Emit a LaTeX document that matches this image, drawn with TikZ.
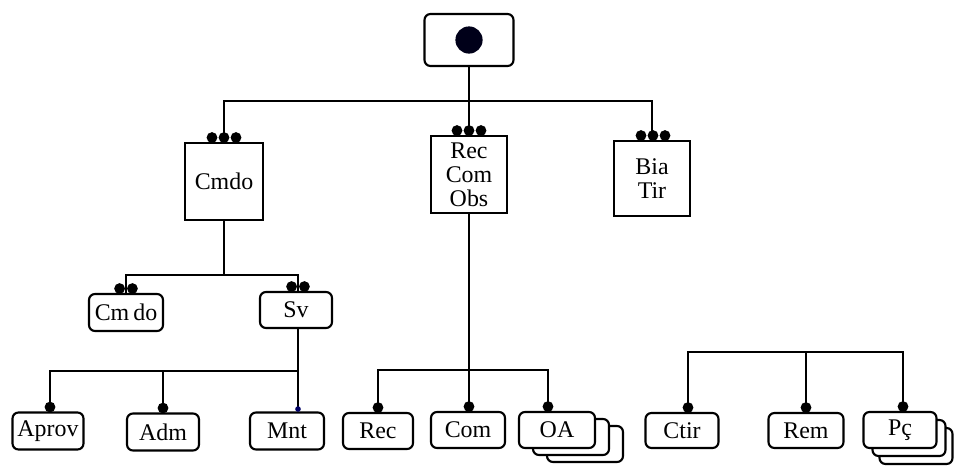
\documentclass[tikz,border=0pt]{standalone}
\usepackage{fontspec}
\setmainfont{Liberation Serif}
\begin{document}
\begin{tikzpicture}[x=0.025cm, y=-0.025cm, line width=1.5pt,
		font=\fontsize{17}{17}\selectfont,
		sqbox/.style={draw, rectangle, fill=white, align=center, inner sep=0pt},
		rbox/.style={draw, rectangle, rounded corners=0.15cm, fill=white, inner sep=0pt},
		dot/.style={circle, fill=black, inner sep=0pt, minimum size=0.27cm}]
	
	\useasboundingbox (0,0) rectangle (960,468);
	
	% topo
	\node[rbox, minimum width=2.225cm, minimum height=1.3cm] (top) at (469,40) {};
	\node[circle, fill=black!90!blue, inner sep=0pt, minimum size=0.68cm] (cir) at (top.center) {};
	
	% primeiro escalao
	\node[sqbox, minimum width=1.95cm, minimum height=1.925cm] (cmdo) at (224,181.5) {Cmdo};
	\node[sqbox, minimum width=1.9cm, minimum height=1.925cm] (rco) at (469,174.5) {Rec\\Com\\Obs};
	\node[sqbox, minimum width=1.9cm, minimum height=1.875cm] (bia) at (652,178.5) {Bia\\Tir};
	
	\coordinate (bus1) at (469,101);
	\draw (top.south) -- (rco.north);
	\draw (cmdo.north) |- (bus1) -| (bia.north);
	
	% Cmdo
	\node[rbox, minimum width=1.85cm, minimum height=0.925cm] (cmdo2) at (126,312.5) {Cm\,do};
	\node[rbox, minimum width=1.8cm, minimum height=0.9cm] (sv) at (296,310) {Sv};
	
	\coordinate (bus2) at (224,275);
	\draw (cmdo.south) -- (bus2);
	\draw (cmdo2.north) |- (bus2) -| ([xshift=0.05cm]sv.north);
	
	% Sv
	\node[rbox, minimum width=1.775cm, minimum height=0.925cm] (aprov) at (48,431) {Aprov};
	\node[rbox, minimum width=1.8cm, minimum height=0.925cm] (adm) at (163,432) {Adm};
	\node[rbox, minimum width=1.85cm, minimum height=0.925cm] (mnt) at (287,431) {Mnt};
	
	\coordinate (bus3) at (298,371);
	\draw (sv.south -| bus3) -- (bus3 |- mnt.north);
	\draw ([xshift=0.05cm]aprov.north) |- (bus3);
	\draw (adm.north) |- (bus3);
	
	% Rec Com Obs
	\node[rbox, minimum width=1.75cm, minimum height=0.9cm] (rec) at (378,431) {Rec};
	\node[rbox, minimum width=1.85cm, minimum height=0.9cm] (com) at (468,430) {Com};
	\node[rbox, minimum width=1.9cm, minimum height=0.9cm] (oa3) at (585,444) {};
	\node[rbox, minimum width=1.9cm, minimum height=0.9cm] (oa2) at (571,437) {};
	\node[rbox, minimum width=1.9cm, minimum height=0.9cm] (oa) at (557,430) {OA};
	
	\coordinate (bus4) at (469,370);
	\draw (rco.south) -- (bus4 |- com.north);
	\draw (rec.north) |- (bus4) -| ([xshift=-0.225cm]oa.north);
	
	% Bia Tir
	\node[rbox, minimum width=1.825cm, minimum height=0.875cm] (ctir) at (682,430.5) {Ctir};
	\node[rbox, minimum width=1.875cm, minimum height=0.875cm] (rem) at (806,430.5) {Rem};
	\node[rbox, minimum width=1.825cm, minimum height=0.9cm] (pc3) at (916,446) {};
	\node[rbox, minimum width=1.825cm, minimum height=0.9cm] (pc2) at (909,438) {};
	\node[rbox, minimum width=1.825cm, minimum height=0.9cm] (pc) at (900,430) {Pç};
	
	\coordinate (bus5) at (806,352);
	\draw ([xshift=0.15cm]ctir.north) |- (bus5) -| ([xshift=0.075cm]pc.north);
	\draw (bus5) -- (rem.north);
	
	% pontos
	\foreach \n/\d in {cmdo/0, rco/0, bia/0.025} {
		\foreach \dx in {-0.3,0,0.3}
			\node[dot] at ([xshift=\d cm + \dx cm, yshift=0.11cm]\n.north) {};
	}
	\foreach \n/\d in {cmdo2/0, sv/0.05} {
		\foreach \dx in {-0.16,0.16}
			\node[dot] at ([xshift=\d cm + \dx cm, yshift=0.11cm]\n.north) {};
	}
	\foreach \n/\d in {aprov/0.05, adm/0, rec/0, com/0.025, oa/-0.225, ctir/0.15, rem/0, pc/0.075}
		\node[dot] at ([xshift=\d cm, yshift=0.11cm]\n.north) {};
	\node[circle, fill=blue!40!black, inner sep=0pt, minimum size=0.14cm] at ([xshift=0.275cm, yshift=0.06cm]mnt.north) {};
	
\end{tikzpicture}
\end{document}
